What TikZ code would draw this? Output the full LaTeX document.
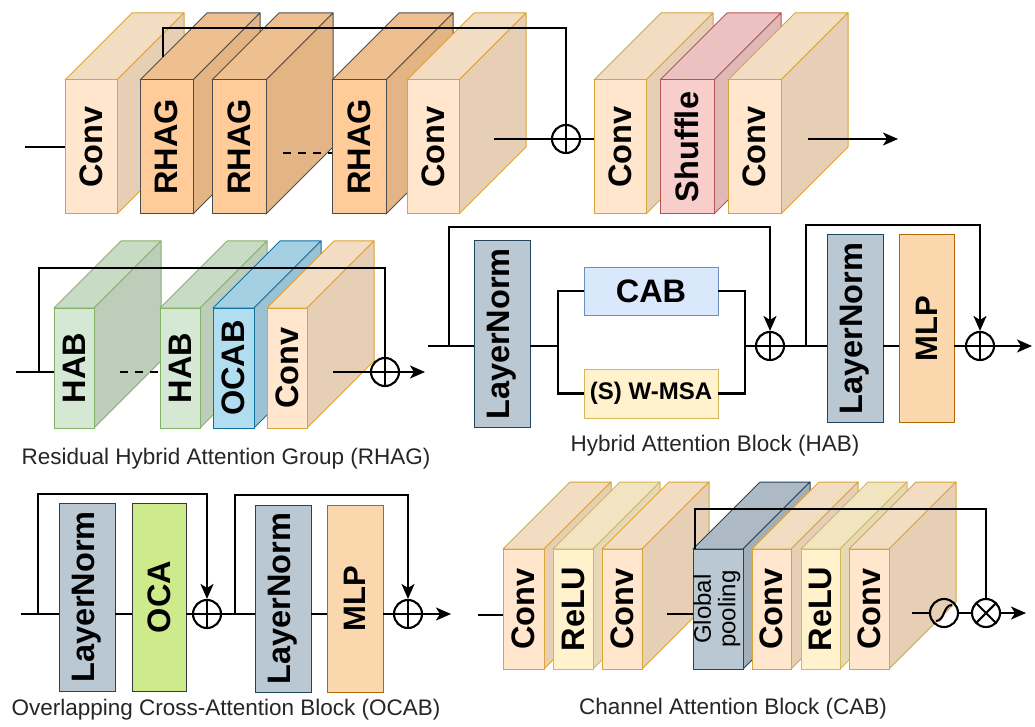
\documentclass[tikz,border=0pt]{standalone}
\usepackage{fontspec}
\setmainfont{Liberation Sans}
\usetikzlibrary{arrows.meta}

% block colours: F front, T top, S side, D stroke
\definecolor{cvF}{HTML}{FFE6CC}\definecolor{cvT}{HTML}{F2DCC2}\definecolor{cvS}{HTML}{E6CFB4}\definecolor{cvD}{HTML}{D9A43A}
\definecolor{rhF}{HTML}{FFCC99}\definecolor{rhT}{HTML}{EFC08F}\definecolor{rhS}{HTML}{E3B585}\definecolor{rhD}{HTML}{4D4D4D}
\definecolor{shF}{HTML}{F8CECC}\definecolor{shT}{HTML}{EBC2C1}\definecolor{shS}{HTML}{DFB8B7}\definecolor{shD}{HTML}{B85450}
\definecolor{hbF}{HTML}{D5E8D4}\definecolor{hbT}{HTML}{C7DBC5}\definecolor{hbS}{HTML}{BCCDB9}\definecolor{hbD}{HTML}{82B366}
\definecolor{ocF}{HTML}{B1DDF0}\definecolor{ocT}{HTML}{A5CFE2}\definecolor{ocS}{HTML}{9AC2D4}\definecolor{ocD}{HTML}{10739E}
\definecolor{reF}{HTML}{FFF2CC}\definecolor{reT}{HTML}{F0E4C1}\definecolor{reS}{HTML}{E5D9B6}\definecolor{reD}{HTML}{D6B656}
\definecolor{gpF}{HTML}{BAC8D3}\definecolor{gpT}{HTML}{ADBAC5}\definecolor{gpS}{HTML}{A2AFB9}\definecolor{gpD}{HTML}{23445D}
\definecolor{caF}{HTML}{DAE8FC}\definecolor{caD}{HTML}{6C8EBF}
\definecolor{oaF}{HTML}{CDEB8B}\definecolor{oaD}{HTML}{36393D}
\definecolor{mlF}{HTML}{FAD7AC}\definecolor{mlD}{HTML}{B46504}

\newcommand{\blk}{\fontsize{32.5}{37}\selectfont\bfseries}

% 3D block: name, x1, y1, x2, y2 (front face), colour set, label
\newcommand{\cube}[7]{%
  \path[draw=#6D, fill=#6T, line width=1pt, line join=round]
    (#2,#3) -- (#4,#3) -- (#4+67,#3-67) -- (#2+67,#3-67) -- cycle;
  \path[draw=#6D, fill=#6S, line width=1pt, line join=round]
    (#4,#3) -- (#4+67,#3-67) -- (#4+67,#5-67) -- (#4,#5) -- cycle;
  \node[draw=#6D, fill=#6F, line width=1pt, inner sep=0pt, outer sep=0pt,
        anchor=north west, minimum width={(#4-#2)*1pt},
        minimum height={(#5-#3)*1pt}] (#1) at (#2,#3) {};
  \node[rotate=90, font=\blk, inner sep=0pt]
    (#1-t) at ({(#2+#4)/2},{(#3+#5)/2}) {#7};
}

% flat box: name, x1, y1, x2, y2, colour set, label, label angle
\newcommand{\panel}[8]{%
  \node[draw=#6D, fill=#6F, line width=1pt, inner sep=0pt, outer sep=0pt,
        anchor=north west, minimum width={(#4-#2)*1pt},
        minimum height={(#5-#3)*1pt}] (#1) at (#2,#3) {};
  \node[rotate=#8, font=\blk, inner sep=0pt]
    (#1-t) at ({(#2+#4)/2},{(#3+#5)/2}) {#7};
}

\tikzset{
  ln/.style={line width=2.1pt, black},
  arr/.style={ln, -{Stealth[length=15pt,width=13pt,inset=4pt]}},
  dashline/.style={ln, dash pattern=on 8pt off 7pt},
  opnode/.style={circle, draw, line width=2.1pt, minimum size=28pt, inner sep=0pt},
  addnode/.style={opnode, path picture={
      \draw[line width=2.1pt] (path picture bounding box.north) -- (path picture bounding box.south)
                              (path picture bounding box.west) -- (path picture bounding box.east);}},
  mulnode/.style={opnode, path picture={
      \draw[line width=2.1pt] (path picture bounding box.north west) -- (path picture bounding box.south east)
                              (path picture bounding box.south west) -- (path picture bounding box.north east);}},
  signode/.style={opnode, path picture={
      \draw[line width=2.1pt] ([shift={(-8pt,-8pt)}]path picture bounding box.center)
        .. controls ([shift={(1pt,-8pt)}]path picture bounding box.center)
        and ([shift={(-1pt,8pt)}]path picture bounding box.center)
        .. ([shift={(8pt,8pt)}]path picture bounding box.center);}},
  captext/.style={font=\fontsize{22.5}{26}\selectfont, text=black!85, inner sep=0pt}
}

\begin{document}
\begin{tikzpicture}[x=1pt,y=-1pt]
\fill[white] (0,0) rectangle (1035,727);
\useasboundingbox (0,0) rectangle (1035,727);

% ---------------- main network ----------------
\cube{c1}{65}{80}{117}{214}{cv}{Conv}
\cube{r1}{140}{80}{193}{214}{rh}{RHAG}
\cube{r2}{212}{80}{266}{214}{rh}{RHAG}
\cube{r3}{332}{80}{386}{214}{rh}{RHAG}
\cube{c2}{407}{80}{459}{214}{cv}{Conv}
\cube{c3}{594}{80}{646}{214}{cv}{Conv}
\cube{sh}{660}{80}{714}{214}{sh}{Shuffle}
\cube{c4}{728}{80}{781}{214}{cv}{Conv}

\coordinate (in0) at (25,147);
\draw[ln] (in0) -- (c1.west |- in0);
\coordinate (d0) at (283,153);
\draw[dashline] (d0) -- (r3.west |- d0);
\node[addnode] (a0) at (566,139) {};
\coordinate (o0) at (494,139);
\draw[ln] (o0) -- (a0.west);
\draw[ln] (a0.east) -- (c3.west |- a0);
\coordinate (k0) at (163,57);
\draw[ln] (k0) -- ++(0,-29) -| (a0.north);
\coordinate (e0) at (808,139);
\coordinate (f0) at (898,139);
\draw[arr] (e0) -- (f0);

% ---------------- RHAG ----------------
\cube{h1}{54}{308}{94}{428}{hb}{HAB}
\cube{h2}{160}{308}{200}{428}{hb}{HAB}
\cube{oc}{213}{308}{254}{428}{oc}{OCAB}
\cube{c5}{267}{308}{307}{428}{cv}{Conv}

\coordinate (in1) at (16,372);
\draw[ln] (in1) -- (h1.west |- in1);
\coordinate (d1) at (120,372);
\draw[dashline] (d1) -- (h2.west |- d1);
\node[addnode] (a1) at (385,372) {};
\coordinate (o1) at (333,372);
\draw[ln] (o1) -- (a1.west);
\coordinate (f1) at (425,372);
\draw[arr] (a1.east) -- (f1);
\coordinate (k1) at (39,372);
\draw[ln] (k1) -- ++(0,-104) -| (a1.north);
\node[captext] (t1) at (226,459) {Residual Hybrid Attention Group (RHAG)};

% ---------------- HAB ----------------
\panel{ln1}{474}{241}{530}{427}{gp}{LayerNorm}{90}
\panel{cab}{584}{267}{718}{315}{ca}{CAB}{0}
\panel{wm}{584}{369}{718}{418}{re}{\fontsize{24}{28}\selectfont (S) W-MSA}{0}
\panel{ln2}{827}{235}{883}{422}{gp}{LayerNorm}{90}
\panel{mlp1}{899}{235}{954}{422}{ml}{\fontsize{31}{34}\selectfont MLP}{90}

\coordinate (in2) at (428,346);
\draw[ln] (in2) -- (ln1.west |- in2);
\coordinate (b1) at (558,346);
\draw[ln] (ln1.east |- b1) -- (b1);
\draw[ln] (cab.west) -| (b1) |- (wm.west);
\coordinate (b2) at (745,346);
\draw[ln] (cab.east) -| (b2) |- (wm.east);
\node[addnode] (a2) at (770,346) {};
\draw[ln] (b2) -- (a2.west);
\coordinate (k2) at (449,346);
\draw[arr] (k2) -- ++(0,-119) -| (a2.north);
\draw[ln] (a2.east) -- (ln2.west |- a2);
\node[addnode] (a3) at (980,346) {};
\coordinate (k3) at (806,346);
\draw[arr] (k3) -- ++(0,-121) -| (a3.north);
\draw[ln] (ln2.east |- a3) -- (mlp1.west |- a3);
\draw[ln] (mlp1.east |- a3) -- (a3.west);
\coordinate (f3) at (1032,346);
\draw[arr] (a3.east) -- (f3);
\node[captext] (t2) at (715,446) {Hybrid Attention Block (HAB)};

% ---------------- OCAB ----------------
\panel{ln3}{59}{503}{115}{691}{gp}{LayerNorm}{90}
\panel{oca}{132}{503}{186}{691}{oa}{OCA}{90}
\panel{ln4}{255}{505}{311}{692}{gp}{LayerNorm}{90}
\panel{mlp2}{327}{505}{383}{692}{ml}{\fontsize{31}{34}\selectfont MLP}{90}

\node[addnode] (a4) at (207,614) {};
\node[addnode] (a5) at (408,614) {};
\coordinate (in4) at (21,614);
\draw[ln] (in4) -- (ln3.west |- in4);
\draw[ln] (ln3.east |- a4) -- (oca.west |- a4);
\draw[ln] (oca.east |- a4) -- (a4.west);
\draw[ln] (a4.east) -- (ln4.west |- a4);
\draw[ln] (ln4.east |- a5) -- (mlp2.west |- a5);
\draw[ln] (mlp2.east |- a5) -- (a5.west);
\coordinate (f5) at (451,614);
\draw[arr] (a5.east) -- (f5);
\coordinate (k4) at (38,614);
\draw[arr] (k4) -- ++(0,-120) -| (a4.north);
\coordinate (k5) at (235,614);
\draw[arr] (k5) -- ++(0,-119) -| (a5.north);
\node[captext] (t3) at (226,710) {Overlapping Cross-Attention Block (OCAB)};

% ---------------- CAB ----------------
\cube{q1}{503}{549}{544}{669}{cv}{Conv}
\cube{q2}{553}{549}{593}{669}{re}{ReLU}
\cube{q3}{602}{549}{642}{669}{cv}{Conv}
\cube{gp}{693}{549}{743}{669}{gp}{\fontsize{24}{24}\selectfont\mdseries
  \begin{tabular}{@{}c@{}}Global\\pooling\end{tabular}}
\cube{q4}{752}{549}{791}{669}{cv}{Conv}
\cube{q5}{801}{549}{840}{669}{re}{ReLU}
\cube{q6}{849}{549}{889}{669}{cv}{Conv}

\coordinate (in6) at (478,615);
\draw[ln] (in6) -- (q1.west |- in6);
\coordinate (o6) at (667,614);
\draw[ln] (o6) -- (gp.west |- o6);
\node[signode] (sg) at (944,613) {};
\node[mulnode] (mu) at (986,613) {};
\coordinate (o7) at (912,613);
\draw[ln] (o7) -- (sg.west);
\draw[ln] (sg.east) -- (mu.west);
\coordinate (f7) at (1026,613);
\draw[arr] (mu.east) -- (f7);
\coordinate (k6) at (695,549);
\draw[ln] (k6) -- ++(0,-40) -| (mu.north);
\node[captext] (t4) at (733,709) {Channel Attention Block (CAB)};
\end{tikzpicture}
\end{document}
